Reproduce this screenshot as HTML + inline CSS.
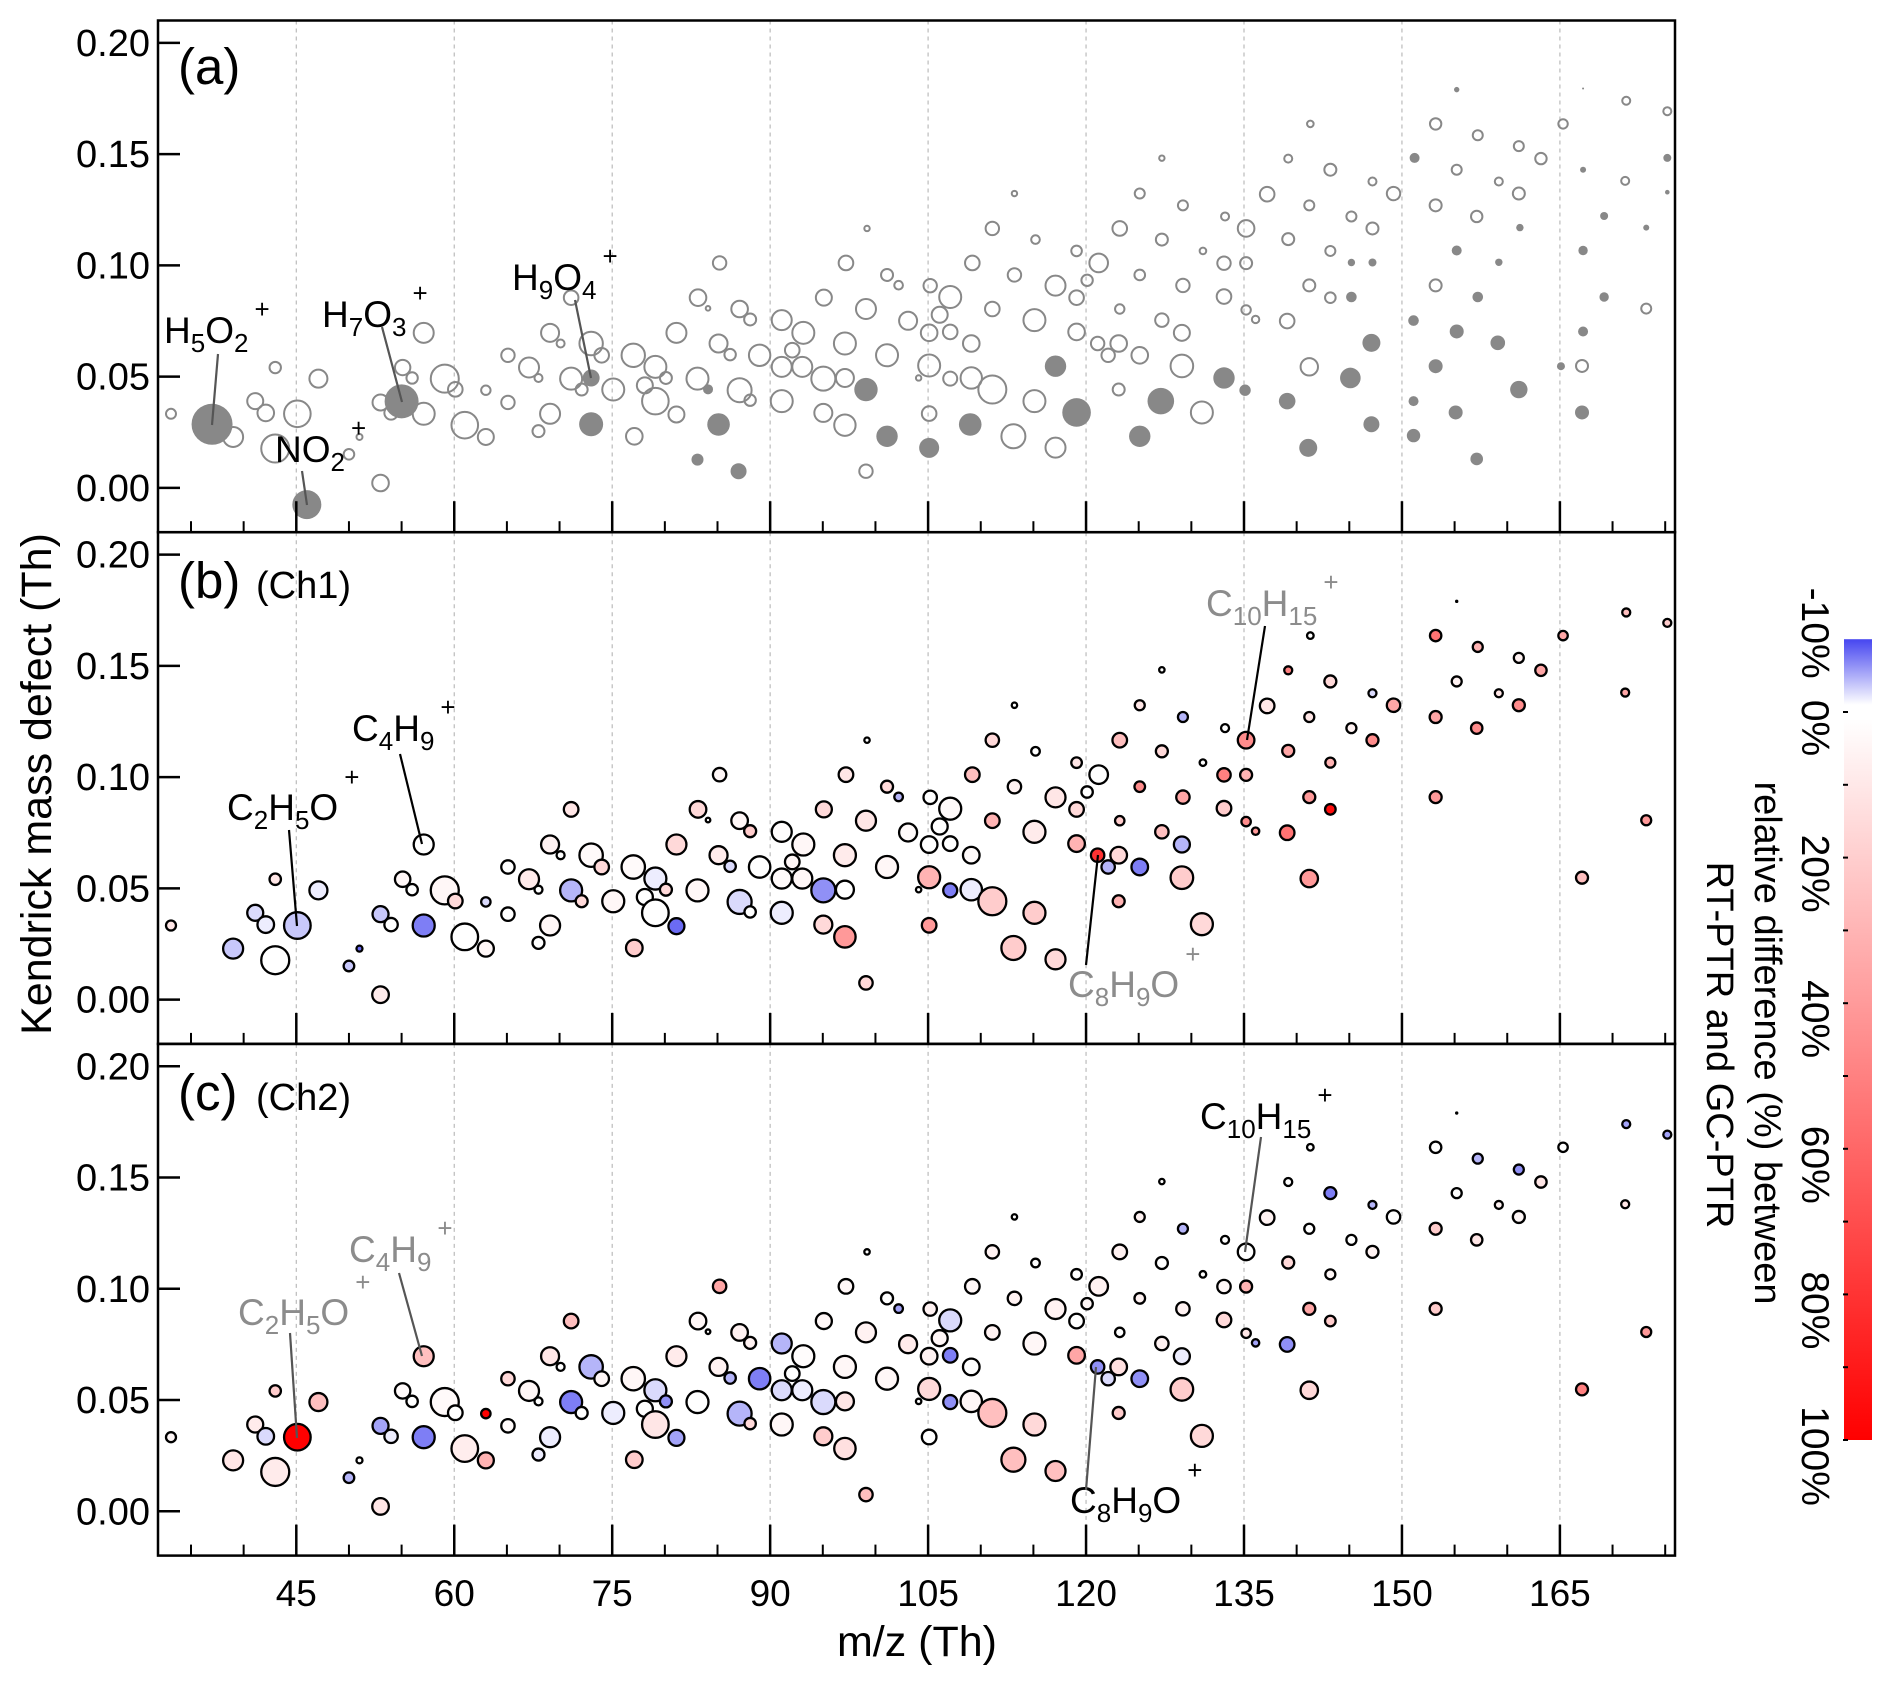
<!DOCTYPE html>
<html><head><meta charset="utf-8"><style>
html,body{margin:0;padding:0;background:#fff;}
svg{display:block;font-family:"Liberation Sans",Arial,sans-serif;}
</style></head><body>
<svg id="chart" width="1892" height="1682" viewBox="0 0 1892 1682" xmlns="http://www.w3.org/2000/svg">
<defs>
<linearGradient id="gBlue" x1="0" y1="0" x2="0" y2="1"><stop offset="0" stop-color="#4646f0"/><stop offset="1" stop-color="#ffffff"/></linearGradient>
<linearGradient id="gRed" x1="0" y1="0" x2="0" y2="1"><stop offset="0" stop-color="#ffffff"/><stop offset="1" stop-color="#ff0000"/></linearGradient>
</defs>
<g id="grid"></g>
<g id="marks"></g>
<g id="axes"></g>
<g id="labels"></g>
<g id="cbar"></g>
</svg>
<script>
// ---- data: shared peaks (m/z, Kendrick mass defect, marker radius, Ch1 rel. diff %, Ch2 rel. diff %)
const mzVals=[33.1,39.0,41.1,42.1,43.0,43.0,45.1,47.1,50.0,51.0,53.0,53.0,54.0,55.1,56.0,57.1,57.1,59.1,60.1,61.0,63.0,63.0,65.1,65.1,67.1,68.0,68.0,69.1,70.1,69.1,71.1,71.1,72.1,73.0,74.0,75.1,77.0,77.1,79.1,78.1,79.1,80.1,
85.2,83.15,84.1,87.1,88.1,81.1,85.1,86.2,83.1,87.1,88.1,81.1,89.0,91.1,93.15,92.1,91.1,93.05,95.05,97.1,91.1,95.05,97.1,95.1,97.1,97.2,99.2,99.1,101.1,99.1,101.1,102.2,103.1,105.2,105.1,104.1,105.1,105.1,106.1,107.1,107.1,107.1,109.1,109.1,109.2,111.1,111.1,111.1,113.2,115.2,113.2,115.1,115.1,113.1,117.1,117.1,119.1,119.1,119.1,121.2,120.1,121.1,122.1,123.2,123.2,123.1,123.1,125.1,125.1,125.1,127.2,127.2,127.2,
129.2,133.2,135.2,137.2,131.1,133.1,135.2,129.2,133.1,135.2,136.1,139.1,129.1,129.1,131.0,141.3,139.2,143.2,141.2,139.2,143.2,141.2,143.2,141.2,147.2,145.2,147.2,149.2,153.2,153.2,153.2,155.2,157.2,155.2,157.1,161.1,163.2,159.2,161.1,165.3,167.1,171.3,171.2,173.2,175.2];
const kmdVals=[0.0333,0.0229,0.039,0.0337,0.0541,0.0177,0.0333,0.0491,0.0151,0.0229,0.0022,0.0384,0.0337,0.0541,0.0494,0.0697,0.0333,0.0491,0.0443,0.0282,0.0229,0.0439,0.0596,0.0384,0.0541,0.0494,0.0255,0.0697,0.0649,0.0333,0.0855,0.0491,0.0442,0.0649,0.0596,0.0442,0.0596,0.0232,0.0544,0.0461,0.039,0.0494,
0.1011,0.0855,0.0807,0.0804,0.0757,0.0697,0.0649,0.0599,0.0491,0.0439,0.0394,0.033,0.0596,0.0754,0.0697,0.0619,0.0544,0.0544,0.0491,0.0494,0.039,0.0337,0.0282,0.0855,0.0649,0.1011,0.1166,0.0804,0.0596,0.0075,0.0957,0.0911,0.0751,0.0909,0.0697,0.0494,0.055,0.0334,0.0778,0.0858,0.0701,0.0491,0.0649,0.0494,0.1011,0.1166,0.0804,0.0442,0.1323,0.1116,0.0957,0.0754,0.039,0.0232,0.0181,0.0909,0.1065,0.0855,0.0701,0.1011,0.0933,0.0649,0.0596,0.1166,0.0804,0.0649,0.0442,0.1323,0.0957,0.0596,0.1482,0.1116,0.0754,
0.127,0.122,0.1166,0.132,0.1065,0.101,0.101,0.091,0.086,0.080,0.0757,0.075,0.0697,0.0548,0.0339,0.1636,0.148,0.143,0.127,0.1118,0.1065,0.091,0.0855,0.0544,0.1377,0.122,0.1166,0.1323,0.1636,0.127,0.091,0.179,0.1585,0.143,0.122,0.1536,0.148,0.1377,0.1323,0.1636,0.0548,0.174,0.138,0.0806,0.1693];
const sizeVals=[5,10,8,8.3,5.7,14,13.3,9,5.3,3,8.3,8,6.7,7.7,5.7,10,11,14,7.3,13.3,8,4.7,6.7,6.7,10,4,6,9,4,10,7.3,11,6,11.7,7.3,11,11.7,8.3,11,8,13.3,6,
6.7,8.3,2.3,8.3,6,10,9,5.7,11,12,5.7,8,10.7,10,11,7.3,10,10,12,9,11,9,10.7,8,11,7.3,2.7,10,11,6.7,6,4.3,9,6.7,8.3,2.7,11,7.3,8,11,7.3,7,8.3,10.7,7.3,6.7,7.3,14,2.7,4.3,6.7,11,11,12,10,10,5.3,7.3,8.3,9.3,5.7,6.7,6.7,7.3,4.7,8.3,6,5,5.3,8.3,2.7,6,6.7,
5,4,8.3,7.3,3.3,6.7,6,6.7,7.3,4.7,3.7,7.3,8,11.3,11,3.3,4,6,5,6,5,6,5.3,8.7,4,5,6,6.7,5.7,6,6,1.7,5,5,5.7,5,5.7,4,6,4.7,6,4,4,5,4];
const ch1Vals=[10,-3,-2,-1,10,0,-3,-1,-3,-8,8,-3,0,3,0,0,-7,3,15,0,3,-2,0,0,8,0,0,5,0,3,10,-4,15,2,15,3,2,20,-1,0,0,15,
3,15,0,3,20,15,8,-2,3,-2,0,-8,0,1,3,3,2,3,-6,0,-1,15,40,15,8,10,0,10,3,15,15,-4,2,0,0,0,30,40,0,2,0,-7,2,-1,25,15,30,20,0,0,5,8,20,20,15,10,10,15,30,0,0,80,-4,25,20,15,30,10,45,-7,0,15,25,
-4,0,45,10,0,50,30,35,20,45,40,55,-4,20,15,0,50,15,10,35,30,40,95,40,-2,5,45,35,55,35,40,null,30,5,45,5,35,10,45,35,25,25,35,40,20];
const ch2Vals=[3,10,8,-2,20,8,100,25,-4,0,10,-5,-1,2,0,25,-7,2,0,7,30,100,15,2,3,0,-1,10,0,-1,25,-7,0,-4,3,-1,3,20,-2,0,10,-6,
35,3,0,5,5,8,5,-4,0,-4,15,-5,-7,-4,1,0,-2,-1,-2,10,3,20,12,3,3,3,0,5,3,25,0,-5,8,5,5,0,15,0,3,-2,-7,-6,0,3,3,5,5,25,0,0,5,3,15,25,25,5,0,0,35,5,3,-6,-2,5,0,12,20,5,5,-6,0,0,5,
-4,0,0,5,0,3,30,5,15,10,-5,-6,-1,20,15,0,0,-7,0,15,3,35,20,15,-4,0,5,0,0,20,20,null,-4,0,10,-6,10,5,3,0,50,-5,10,40,-5];
// ---- data: peaks only in panel (a), filled grey
const fMz=[37.0,46.0,55.0,73.0,73.0,84.1,85.1,83.1,87.0,99.1,101.1,105.1,109.0,117.1,119.1,125.1,127.1,133.1,135.1,139.1,141.1,145.1,145.2,145.2,147.2,147.1,147.1,151.2,151.1,151.1,151.1,153.2,155.2,155.2,155.1,157.2,157.1,159.1,159.2,161.2,161.1,165.1,167.1,167.2,167.2,167.2,167.2,169.2,169.2,173.2,175.2,175.2];
const fKmd=[0.0286,-0.0075,0.0389,0.0494,0.0286,0.0443,0.0285,0.0127,0.0075,0.0442,0.0232,0.018,0.0285,0.0547,0.0339,0.0232,0.039,0.0494,0.0439,0.039,0.018,0.0494,0.1013,0.0858,0.1013,0.0652,0.0286,0.1483,0.0752,0.039,0.0235,0.0547,0.1067,0.0703,0.0339,0.0858,0.013,0.0652,0.1014,0.117,0.0442,0.0547,0.0339,0.0703,0.1067,0.143,0.1795,0.1222,0.0858,0.117,0.1483,0.1329];
const fSize=[20.5,14.5,17,8.5,12,5,11.3,6,8,11.7,10.7,10,11.3,10.7,14.3,10.7,13.3,10.7,5.7,8.3,9,10.3,3.7,5.3,4,9,8,5,5.3,5,6.7,7,5,7,7,5.3,6.3,7.3,3.7,3.7,8.7,4,7,5,4.7,3,1,4,4.7,3,4,2.3];
const xTicks=[45,60,75,90,105,120,135,150,165];
const yTicks=[0,0.05,0.10,0.15,0.20];
const yTickLabels=["0.00","0.05","0.10","0.15","0.20"];
const cbTicks=[-10,0,20,40,60,80,100];

const NS="http://www.w3.org/2000/svg";
const X0=158,X1=1675,PT=20.5,PH=511.7;
function xS(m){return 296.3+(m-45)*10.53;}
function yS(p,k){return PT+p*PH+22.4+(0.20-k)*2225;}
function mk(tag,at,parent){const e=document.createElementNS(NS,tag);for(const k in at)e.setAttribute(k,at[k]);parent.appendChild(e);return e;}
function col(v){
  if(v===null)return "#000";
  if(v<0){const t=Math.min(1,-v/10);return `rgb(${Math.round(255-185*t)},${Math.round(255-185*t)},${Math.round(255-15*t)})`;}
  const t=Math.min(1,v/100);const g=Math.round(255*(1-t));return `rgb(255,${g},${g})`;
}
const grid=document.getElementById('grid'),marks=document.getElementById('marks'),axes=document.getElementById('axes'),labels=document.getElementById('labels'),cbar=document.getElementById('cbar');
for(let p=0;p<3;p++){
  const top=PT+p*PH,bot=top+PH;
  xTicks.forEach(t=>{const l=mk('line',{x1:xS(t),x2:xS(t),y1:top,y2:bot,stroke:'#bbb','stroke-width':1.2,'stroke-dasharray':'4,4'},grid);
    
    });
  const fr=mk('rect',{x:X0,y:top,width:X1-X0,height:PH,fill:'none',stroke:'#000','stroke-width':2.5},axes);
  
  
  for(let m=35;m<=175;m+=5){const maj=xTicks.includes(m);
    const l=mk('line',{x1:xS(m),x2:xS(m),y1:bot,y2:bot-(maj?31:11),stroke:'#000','stroke-width':maj?2.5:2},axes);
    
    }
  yTicks.forEach((t,i)=>{const y=yS(p,t);
    const l=mk('line',{x1:X0,x2:X0+22,y1:y,y2:y,stroke:'#000','stroke-width':2.5},axes);
    
    
    const tx=mk('text',{x:150,y:y+13,'font-size':38,'text-anchor':'end',fill:'#000'},axes);tx.textContent=yTickLabels[i];
    
    });
}
xTicks.forEach(t=>{const tx=mk('text',{x:xS(t),y:1606,'font-size':37,'text-anchor':'middle'},axes);tx.textContent=t;
  
  });
// panel a open circles
mzVals.forEach((m,i)=>{const c=mk('circle',{cx:xS(m),cy:yS(0,kmdVals[i]),r:sizeVals[i],fill:ch1Vals[i]===null?'#888':'none',stroke:'#888','stroke-width':2},marks);
  
  });
fMz.forEach((m,i)=>{const c=mk('circle',{cx:xS(m),cy:yS(0,fKmd[i]),r:fSize[i],fill:'#888'},marks);
  
  });
[ch1Vals,ch2Vals].forEach((vals,pp)=>{const p=pp+1;
  mzVals.forEach((m,i)=>{const c=mk('circle',{cx:xS(m),cy:yS(p,kmdVals[i]),r:sizeVals[i],fill:col(vals[i]),stroke:'#000','stroke-width':vals[i]===null?0:2.3},marks);
    
    });
});
// annotations
function formula(parts,x,y,color,name){
  const t=mk('text',{x:x,y:y,'font-size':37,fill:color},labels);
  
  
  parts.forEach(pt=>{const s=mk('tspan',{},t);
    if(pt[1]==='sub'){s.setAttribute('font-size','26');s.setAttribute('dy','9');}
    else if(pt[1]==='sup'){s.setAttribute('font-size','26');s.setAttribute('dy','-34');s.setAttribute('dx','6');}
    else if(pt[1]==='back'){s.setAttribute('dy','-9');}
    s.textContent=pt[0];});
}
function lead(x1,y1,x2,y2,color){const l=mk('line',{x1:x1,y1:y1,x2:x2,y2:y2,stroke:color,'stroke-width':2.2},labels);
  
  }
function ptxt(s,x,y,fs,name){const t=mk('text',{x:x,y:y,'font-size':fs},labels);t.textContent=s;
  
  }
ptxt('(a)',178,84,51,'panel-label-a');
ptxt('(b)',178,598,51,'panel-label-b');ptxt('(Ch1)',256,598,38,'channel-label-ch1');
ptxt('(c)',178,1110,51,'panel-label-c');ptxt('(Ch2)',256,1110,38,'channel-label-ch2');
const K='#000',G='#8c8c8c',D='#555';
formula([['H'],['5','sub'],['O','back'],['2','sub'],['+','sup']],164,343,K,'label-h5o2');lead(218,354,212,425,D);
formula([['NO'],['2','sub'],['+','sup']],275,462,K,'label-no2');lead(302,471,307,505,D);
formula([['H'],['7','sub'],['O','back'],['3','sub'],['+','sup']],322,327,K,'label-h7o3');lead(382,327,402,402,D);
formula([['H'],['9','sub'],['O','back'],['4','sub'],['+','sup']],512,290,K,'label-h9o4');lead(575,300,591,378,D);
formula([['C'],['2','sub'],['H','back'],['5','sub'],['O','back'],['+','sup']],227,820,K,'label-c2h5o-ch1');lead(289,830,297,926,K);
formula([['C'],['4','sub'],['H','back'],['9','sub'],['+','sup']],352,741,K,'label-c4h9-ch1');lead(400,754,422,844,K);
formula([['C'],['8','sub'],['H','back'],['9','sub'],['O','back'],['+','sup']],1068,997,G,'label-c8h9o-ch1');lead(1086,965,1098,855,K);
formula([['C'],['10','sub'],['H','back'],['15','sub'],['+','sup']],1206,616,G,'label-c10h15-ch1');lead(1265,626,1247,740,K);
formula([['C'],['2','sub'],['H','back'],['5','sub'],['O','back'],['+','sup']],238,1325,G,'label-c2h5o-ch2');lead(290,1333,297,1438,D);
formula([['C'],['4','sub'],['H','back'],['9','sub'],['+','sup']],349,1262,G,'label-c4h9-ch2');lead(399,1273,422,1356,D);
formula([['C'],['10','sub'],['H','back'],['15','sub'],['+','sup']],1200,1129,K,'label-c10h15-ch2');lead(1261,1137,1245,1252,D);
formula([['C'],['8','sub'],['H','back'],['9','sub'],['O','back'],['+','sup']],1070,1513,K,'label-c8h9o-ch2');lead(1086,1490,1096,1367,D);
// axis titles
ptxt('m/z (Th)',917,1656,43,'x-axis-title');labels.lastChild.setAttribute('text-anchor','middle');
const yt=mk('text',{x:0,y:0,'font-size':43,'text-anchor':'middle',transform:'translate(51,784) rotate(-90)'},labels);yt.textContent='Kendrick mass defect  (Th)';


// colorbar
function cbY(v){return 712+v*7.28;}
const rb=mk('rect',{x:1844,y:cbY(-10),width:28,height:cbY(-1)-cbY(-10),fill:'url(#gBlue)'},cbar);


const rr=mk('rect',{x:1844,y:cbY(1),width:28,height:cbY(100)-cbY(1),fill:'url(#gRed)'},cbar);


for(let v=0;v<=100;v+=10){const l=mk('line',{x1:1843,x2:1848,y1:cbY(v),y2:cbY(v),stroke:'#000','stroke-width':2},cbar);
  
  }
cbTicks.forEach(v=>{const yc=v<0?cbY(v)-6:cbY(v)+16;
  const t=mk('text',{x:0,y:0,'font-size':39,'text-anchor':'middle',transform:`translate(1802,${yc}) rotate(90)`},cbar);
  t.textContent=v+'%';
  
  });
const c1=mk('text',{x:0,y:0,'font-size':38,'text-anchor':'middle',transform:'translate(1755,1043) rotate(90)'},cbar);c1.textContent='relative difference (%) between';


const c2=mk('text',{x:0,y:0,'font-size':38,'text-anchor':'middle',transform:'translate(1707,1045) rotate(90)'},cbar);c2.textContent='RT-PTR and GC-PTR';


</script>
</body></html>
